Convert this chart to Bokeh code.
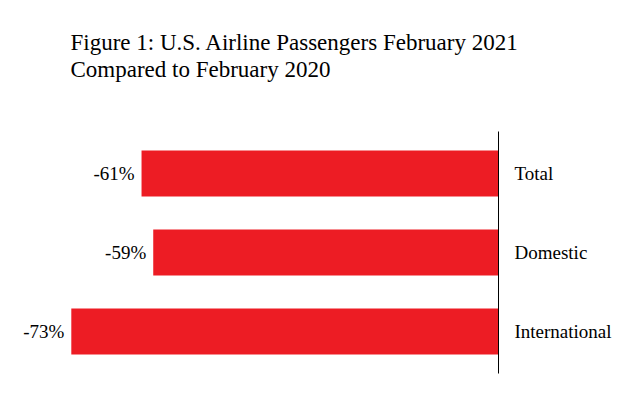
from bokeh.plotting import figure
from bokeh.models import FactorRange, Range1d, ColumnDataSource, Title
from bokeh.embed import file_html
from bokeh.resources import INLINE

categories = ["Total", "Domestic", "International"]
changes = [-61, -59, -73]
value_labels = [f"{v}%" for v in changes]

title_text = "Figure 1: U.S. Airline Passengers February 2021\nCompared to February 2020"

source = ColumnDataSource(dict(cat=categories, val=changes, lab=value_labels))

p = figure(
    width=625, height=399, title=None,
    y_range=FactorRange(factors=categories[::-1], range_padding=0.021),
    x_range=Range1d(start=-85.1, end=0),
    y_axis_location="right",
    output_backend="svg", toolbar_location=None,
    min_border_left=0, min_border_right=127, min_border_top=131, min_border_bottom=26,
)
p.outline_line_color = None
p.grid.visible = False
p.xaxis.visible = False
p.background_fill_color = "white"
p.border_fill_color = "white"

# spacer between frame and title (nearest to the frame)
spacer = Title(text=" ", text_font_size="1px", standoff=47)
p.add_layout(spacer, "above")

main_title = Title(text=title_text, text_font="Liberation Serif", text_font_size="23px",
                   text_font_style="normal", text_color="black", align="left",
                   offset=70, standoff=0, text_line_height=1.07)
p.add_layout(main_title, "above")

p.hbar(y="cat", left=0, right="val", height=0.58, source=source,
       fill_color="#ED1C24", line_color=None)

p.text(x="val", y="cat", text="lab", source=source, x_offset=-7,
       text_align="right", text_baseline="middle",
       text_font={"value": "Liberation Serif"}, text_font_size="19px", text_color="black")

ax = p.yaxis[0]
ax.axis_line_color = "black"
ax.axis_line_width = 1
ax.major_tick_line_color = None
ax.minor_tick_line_color = None
ax.major_tick_in = 0
ax.major_tick_out = 0
ax.major_label_standoff = 16
ax.major_label_text_font = "Liberation Serif"
ax.major_label_text_font_size = "19px"
ax.major_label_text_color = "black"

open("out.html", "w").write(file_html(p, INLINE))
